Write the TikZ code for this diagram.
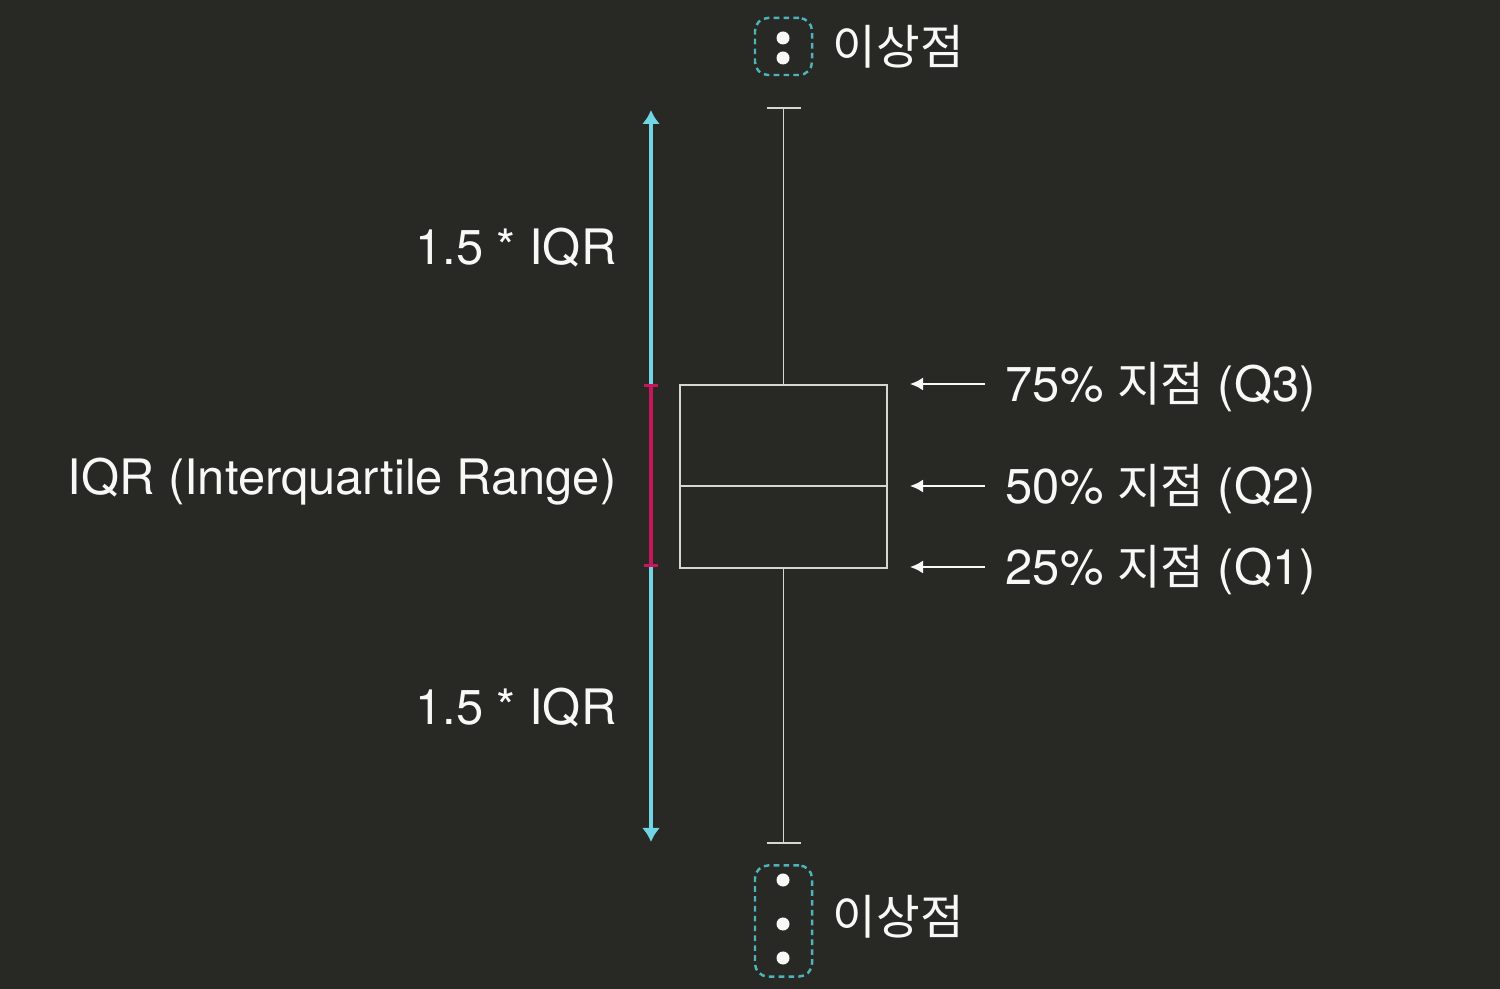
\documentclass[tikz,border=0pt]{standalone}
\usepackage{fontspec}
\setmainfont{TeX Gyre Heros}
\newfontfamily\kr[Scale=0.97]{Noto Sans CJK KR}
\usepackage{tikz}
\usetikzlibrary{arrows.meta, positioning, calc}
\definecolor{bgdark}{RGB}{40,40,36}
\definecolor{boxline}{RGB}{214,214,210}
\definecolor{rangecyan}{RGB}{112,214,228}
\definecolor{iqrmagenta}{RGB}{200,22,92}
\definecolor{outlierteal}{RGB}{76,180,186}
\definecolor{labelwhite}{RGB}{248,248,246}

\tikzset{
  boxstroke/.style={draw=boxline, line width=0.45pt},
  pointer/.style={draw=labelwhite, line width=0.6pt, -{Latex[length=1.3mm, width=1.3mm]}},
  rangebar/.style={draw=rangecyan, line width=1.1pt, -{Latex[length=1.4mm, width=1.8mm]}},
  iqrbar/.style={draw=iqrmagenta, line width=1.1pt, {Bar[width=1.4mm, line width=0.9pt]}-{Bar[width=1.4mm, line width=0.9pt]}},
  outlierbox/.style={draw=outlierteal, line width=0.7pt, dash pattern=on 1.6pt off 1.2pt, rounded corners=1.3mm, minimum width=0.57cm, inner sep=0pt},
  outlierdot/.style={fill=labelwhite},
  txt/.style={text=labelwhite, inner sep=0pt}
}

\begin{document}
\begin{tikzpicture}[x=0.01cm, y=-0.01cm, font=\fontsize{13.9pt}{16pt}\selectfont]
\fill[bgdark] (0,0) rectangle (1500,989);
\useasboundingbox (0,0) rectangle (1500,989);

% Define the box plot parameters (pixels of the page)
\pgfmathsetmacro{\xMid}{783.5}
\pgfmathsetmacro{\yQthree}{384}
\pgfmathsetmacro{\yQtwo}{486}
\pgfmathsetmacro{\yQone}{567}
\pgfmathsetmacro{\yTop}{108}
\pgfmathsetmacro{\yBot}{843}
\pgfmathsetmacro{\xBar}{651}
\pgfmathsetmacro{\capHalf}{0.17cm}

% Draw box and median
\node[boxstroke, minimum width=2.07cm, minimum height=1.83cm, inner sep=0pt, anchor=north] (box) at (\xMid,\yQthree) {};
\coordinate (medWest) at (box.west |- 0,\yQtwo);
\coordinate (medEast) at (box.east |- 0,\yQtwo);
\draw[boxstroke] (medWest) -- (medEast);

% Draw whiskers
\coordinate (capTop) at (\xMid,\yTop);
\coordinate (capBot) at (\xMid,\yBot);
\draw[boxstroke] (box.north) -- (capTop);
\draw[boxstroke] ([xshift=-\capHalf]capTop) -- ([xshift=\capHalf]capTop);
\draw[boxstroke] (box.south) -- (capBot);
\draw[boxstroke] ([xshift=-\capHalf]capBot) -- ([xshift=\capHalf]capBot);

% Draw ranges on the left
\coordinate (barTop) at (\xBar,110);
\coordinate (barQthree) at (\xBar,\yQthree);
\coordinate (barQone) at (\xBar,\yQone);
\coordinate (barBot) at (\xBar,842);
\draw[rangebar] (barQthree) -- (barTop);
\draw[rangebar] (barQone) -- (barBot);
\draw[iqrbar] (barQthree) -- (barQone);

\node[txt, anchor=base east] (upperRange) at (617,265) {1.5 * IQR};
\node[txt, anchor=base east] (iqrRange) at (617,495) {IQR (Interquartile Range)};
\node[txt, anchor=base east] (lowerRange) at (617,725) {1.5 * IQR};

% Draw quartile labels
\node[txt, anchor=base west] (labQthree) at (1005,\yQthree+17.5) {75\% {\kr 지점} (Q3)};
\node[txt, anchor=base west] (labQtwo) at (1005,\yQtwo+17.5) {50\% {\kr 지점} (Q2)};
\node[txt, anchor=base west] (labQone) at (1005,\yQone+17.5) {25\% {\kr 지점} (Q1)};
\coordinate (tipQthree) at (910,\yQthree);
\coordinate (tipQtwo) at (910,\yQtwo);
\coordinate (tipQone) at (910,\yQone);
\draw[pointer] ([xshift=-2mm]labQthree.west |- tipQthree) -- (tipQthree);
\draw[pointer] ([xshift=-2mm]labQtwo.west |- tipQtwo) -- (tipQtwo);
\draw[pointer] ([xshift=-2mm]labQone.west |- tipQone) -- (tipQone);

% Draw outliers
\node[outlierbox, minimum height=0.57cm] (outTop) at (\xMid,46.5) {};
\fill[outlierdot] (783,38) circle[radius=0.065cm];
\fill[outlierdot] (783,58) circle[radius=0.065cm];
\node[txt, right=0.19cm of outTop] (outTopLabel) {\kr 이상점};

\node[outlierbox, minimum height=1.11cm] (outBot) at (\xMid,921) {};
\fill[outlierdot] (783,880) circle[radius=0.065cm];
\fill[outlierdot] (783,924) circle[radius=0.065cm];
\fill[outlierdot] (783,958) circle[radius=0.065cm];
\node[txt, right=0.19cm of outBot, yshift=0.04cm] (outBotLabel) {\kr 이상점};

\end{tikzpicture}
\end{document}
